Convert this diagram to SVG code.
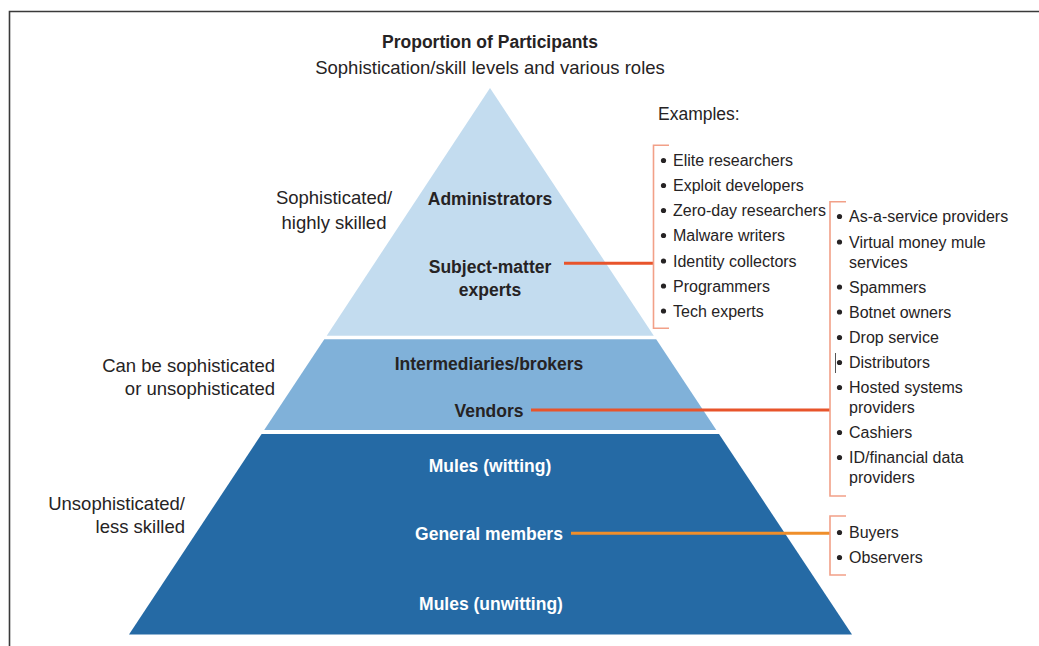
<svg xmlns="http://www.w3.org/2000/svg" width="1039" height="646" viewBox="0 0 1039 646">
<style>
text{font-family:"Liberation Sans",Arial,sans-serif;fill:#262324}
.t{font-size:17.5px;font-weight:bold}
.s{font-size:18.5px}
.lab{font-size:18.5px}
.b{font-size:17.5px;font-weight:bold;text-anchor:middle}
.w{fill:#ffffff}
.li{font-size:16px}
.ex{font-size:17.5px}
.br{fill:none;stroke:#F2A088;stroke-width:1.6}
.dot{fill:#262324}
</style>
<rect width="1039" height="646" fill="#ffffff"/>
<path d="M9.5 646 V11.5 H1039" fill="none" stroke="#3a3a3a" stroke-width="1.6"/>
<g id="title">
<text class="t" x="490" y="48" text-anchor="middle">Proportion of Participants</text>
<text class="s" x="490" y="74" text-anchor="middle">Sophistication/skill levels and various roles</text>
</g>
<g id="tier-top">
<polygon points="490,88 653.8,335.7 326.7,335.7" fill="#C3DCEF"/>
<text class="b" x="490" y="205">Administrators</text>
<text class="b" x="490" y="272.5">Subject-matter</text>
<text class="b" x="490" y="296">experts</text>
<text class="lab" x="334" y="204" text-anchor="middle">Sophisticated/</text>
<text class="lab" x="334" y="229" text-anchor="middle">highly skilled</text>
</g>
<g id="tier-mid">
<polygon points="324.3,339.3 656.2,339.3 716.3,430 264.2,430" fill="#80B1D9"/>
<text class="b" x="489" y="370">Intermediaries/brokers</text>
<text class="b" x="489" y="416.5">Vendors</text>
<text class="lab" x="275" y="371.5" text-anchor="end">Can be sophisticated</text>
<text class="lab" x="275" y="395" text-anchor="end">or unsophisticated</text>
</g>
<g id="tier-bottom">
<polygon points="261.6,434 719,434 852,634.5 129,634.5" fill="#256AA5"/>
<text class="b w" x="490" y="472">Mules (witting)</text>
<text class="b w" x="489" y="540">General members</text>
<text class="b w" x="491" y="610">Mules (unwitting)</text>
<text class="lab" x="185" y="510" text-anchor="end">Unsophisticated/</text>
<text class="lab" x="185" y="533.3" text-anchor="end">less skilled</text>
</g>
<g id="connectors">
<line x1="564" y1="263.3" x2="653.5" y2="263.3" stroke="#E8542B" stroke-width="3"/>
<line x1="531" y1="410" x2="830" y2="410" stroke="#E8542B" stroke-width="3"/>
<line x1="571" y1="533.3" x2="830" y2="533.3" stroke="#EF8E2A" stroke-width="3"/>
</g>
<g id="examples-label">
<text class="ex" x="658" y="120">Examples:</text>
</g>
<g id="list-experts">
<path class="br" d="M669 145.3 H653.5 V328.3 H669"/>
<circle class="dot" cx="663.5" cy="160.5" r="2.6"/>
<circle class="dot" cx="663.5" cy="185.5" r="2.6"/>
<circle class="dot" cx="663.5" cy="210.5" r="2.6"/>
<circle class="dot" cx="663.5" cy="235.5" r="2.6"/>
<circle class="dot" cx="663.5" cy="261" r="2.6"/>
<circle class="dot" cx="663.5" cy="286" r="2.6"/>
<circle class="dot" cx="663.5" cy="311" r="2.6"/>
<text class="li" x="673" y="166">Elite researchers</text>
<text class="li" x="673" y="191">Exploit developers</text>
<text class="li" x="673" y="216">Zero-day researchers</text>
<text class="li" x="673" y="241">Malware writers</text>
<text class="li" x="673" y="266.5">Identity collectors</text>
<text class="li" x="673" y="291.5">Programmers</text>
<text class="li" x="673" y="316.5">Tech experts</text>
</g>
<g id="list-vendors">
<path class="br" d="M846 201.7 H830 V496 H846"/>
<circle class="dot" cx="839.5" cy="216.5" r="2.6"/>
<circle class="dot" cx="839.5" cy="242" r="2.6"/>
<circle class="dot" cx="839.5" cy="287" r="2.6"/>
<circle class="dot" cx="839.5" cy="312" r="2.6"/>
<circle class="dot" cx="839.5" cy="337.5" r="2.6"/>
<circle class="dot" cx="839.5" cy="362.5" r="2.6"/>
<circle class="dot" cx="839.5" cy="387.5" r="2.6"/>
<circle class="dot" cx="839.5" cy="432.5" r="2.6"/>
<circle class="dot" cx="839.5" cy="457.5" r="2.6"/>
<line x1="835.5" y1="353" x2="835.5" y2="373" stroke="#555" stroke-width="1"/>
<text class="li" x="849" y="222.3">As-a-service providers</text>
<text class="li" x="849" y="247.7">Virtual money mule</text>
<text class="li" x="849" y="267.7">services</text>
<text class="li" x="849" y="292.7">Spammers</text>
<text class="li" x="849" y="317.7">Botnet owners</text>
<text class="li" x="849" y="343.3">Drop service</text>
<text class="li" x="849" y="368.3">Distributors</text>
<text class="li" x="849" y="393.3">Hosted systems</text>
<text class="li" x="849" y="413.3">providers</text>
<text class="li" x="849" y="438.3">Cashiers</text>
<text class="li" x="849" y="463.3">ID/financial data</text>
<text class="li" x="849" y="483.3">providers</text>
</g>
<g id="list-members">
<path class="br" d="M846 516 H830 V575 H846"/>
<circle class="dot" cx="839.5" cy="532.5" r="2.6"/>
<circle class="dot" cx="839.5" cy="557.5" r="2.6"/>
<text class="li" x="849" y="538.3">Buyers</text>
<text class="li" x="849" y="563.3">Observers</text>
</g>
</svg>
